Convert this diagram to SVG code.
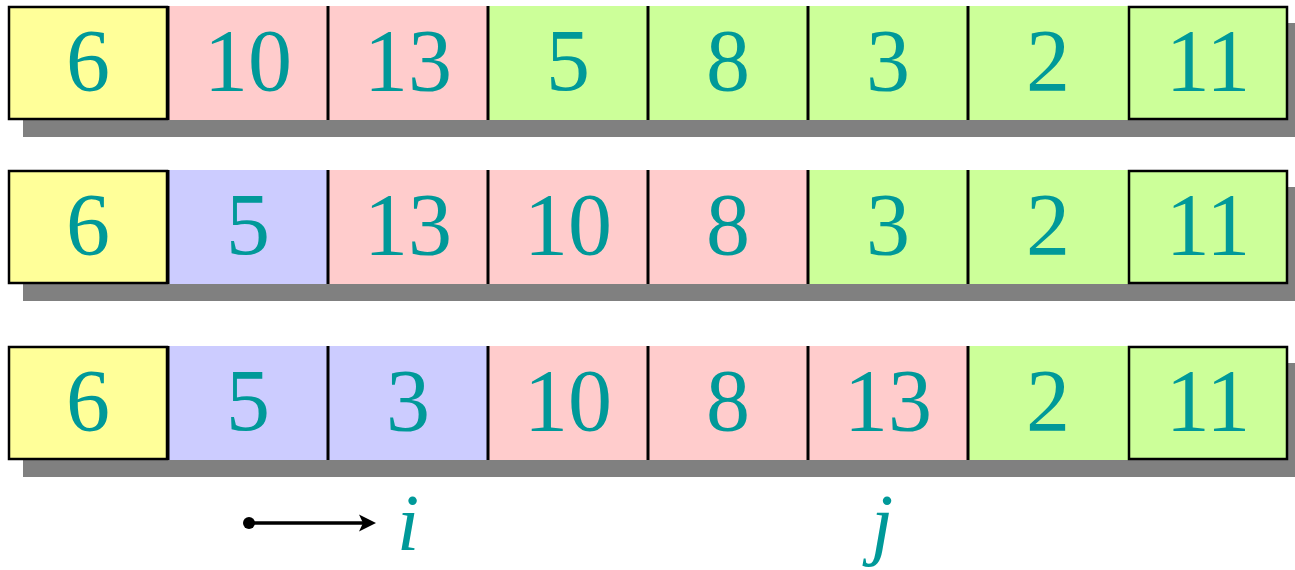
<svg xmlns="http://www.w3.org/2000/svg" width="1295" height="570" viewBox="0 0 1295 570">
<style>
.sh{fill:#808080}
.y{fill:#FFFF99}.p{fill:#FFCCCC}.g{fill:#CCFF99}.b{fill:#CCCCFF}
.sep{stroke:#000;stroke-width:3}
.end{fill:none;stroke:#000;stroke-width:2.5}
.t{font-family:'Liberation Serif',serif;font-size:88px;fill:#009999;text-anchor:middle}
.v{font-family:'Liberation Serif',serif;font-size:80px;font-style:italic;fill:#009999;text-anchor:middle}
</style>
<g id="row1">
<rect class="sh" x="23" y="23" width="1280" height="114"/>
<rect class="y" x="8" y="6" width="160" height="114"/>
<rect class="p" x="168" y="6" width="320" height="114"/>
<rect class="g" x="488" y="6" width="800" height="114"/>
<line class="sep" x1="168" y1="6" x2="168" y2="120"/><line class="sep" x1="328" y1="6" x2="328" y2="120"/><line class="sep" x1="488" y1="6" x2="488" y2="120"/><line class="sep" x1="648" y1="6" x2="648" y2="120"/><line class="sep" x1="808" y1="6" x2="808" y2="120"/><line class="sep" x1="968" y1="6" x2="968" y2="120"/>
<rect class="end" x="9" y="7" width="158" height="112"/>
<rect class="end" x="1129" y="7" width="158" height="112"/>
<text class="t" x="88" y="90">6</text><text class="t" x="248" y="90">10</text><text class="t" x="408" y="90">13</text><text class="t" x="568" y="90">5</text><text class="t" x="728" y="90">8</text><text class="t" x="888" y="90">3</text><text class="t" x="1048" y="90">2</text><text class="t" x="1208" y="90">11</text>
</g>
<g id="row2">
<rect class="sh" x="23" y="187" width="1280" height="114"/>
<rect class="y" x="8" y="170" width="160" height="114"/>
<rect class="b" x="168" y="170" width="160" height="114"/>
<rect class="p" x="328" y="170" width="480" height="114"/>
<rect class="g" x="808" y="170" width="480" height="114"/>
<line class="sep" x1="168" y1="170" x2="168" y2="284"/><line class="sep" x1="328" y1="170" x2="328" y2="284"/><line class="sep" x1="488" y1="170" x2="488" y2="284"/><line class="sep" x1="648" y1="170" x2="648" y2="284"/><line class="sep" x1="808" y1="170" x2="808" y2="284"/><line class="sep" x1="968" y1="170" x2="968" y2="284"/>
<rect class="end" x="9" y="171" width="158" height="112"/>
<rect class="end" x="1129" y="171" width="158" height="112"/>
<text class="t" x="88" y="254">6</text><text class="t" x="248" y="254">5</text><text class="t" x="408" y="254">13</text><text class="t" x="568" y="254">10</text><text class="t" x="728" y="254">8</text><text class="t" x="888" y="254">3</text><text class="t" x="1048" y="254">2</text><text class="t" x="1208" y="254">11</text>
</g>
<g id="row3">
<rect class="sh" x="23" y="363" width="1280" height="114"/>
<rect class="y" x="8" y="346" width="160" height="114"/>
<rect class="b" x="168" y="346" width="320" height="114"/>
<rect class="p" x="488" y="346" width="480" height="114"/>
<rect class="g" x="968" y="346" width="320" height="114"/>
<line class="sep" x1="168" y1="346" x2="168" y2="460"/><line class="sep" x1="328" y1="346" x2="328" y2="460"/><line class="sep" x1="488" y1="346" x2="488" y2="460"/><line class="sep" x1="648" y1="346" x2="648" y2="460"/><line class="sep" x1="808" y1="346" x2="808" y2="460"/><line class="sep" x1="968" y1="346" x2="968" y2="460"/>
<rect class="end" x="9" y="347" width="158" height="112"/>
<rect class="end" x="1129" y="347" width="158" height="112"/>
<text class="t" x="88" y="430">6</text><text class="t" x="248" y="430">5</text><text class="t" x="408" y="430">3</text><text class="t" x="568" y="430">10</text><text class="t" x="728" y="430">8</text><text class="t" x="888" y="430">13</text><text class="t" x="1048" y="430">2</text><text class="t" x="1208" y="430">11</text>
</g>
<g id="connectors">
<circle cx="249" cy="523" r="6" fill="#000"/>
<line x1="249" y1="523" x2="368" y2="523" stroke="#000" stroke-width="3.5"/>
<path d="M376,523 L359,514.5 L363,523 L359,531.5 Z" fill="#000"/>
</g>
<g id="labels">
<text class="v" x="408" y="550">i</text>
<text class="v" x="882" y="550">j</text>
</g>
</svg>
